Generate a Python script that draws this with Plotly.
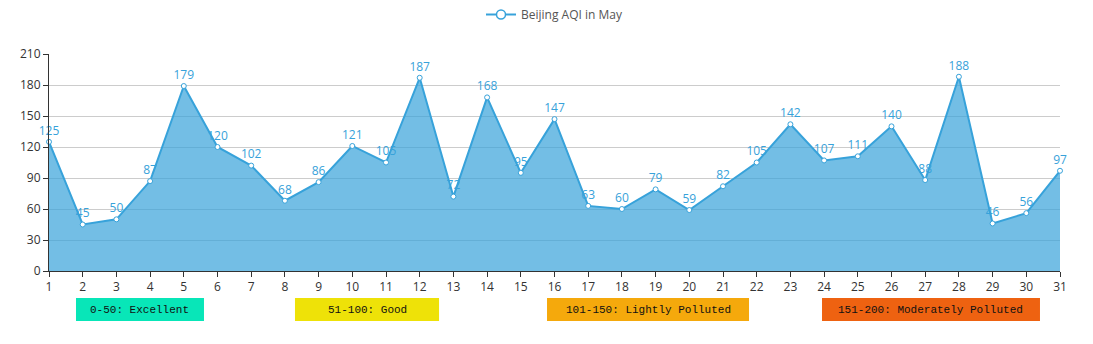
import plotly.graph_objects as go

days = [str(d) for d in range(1, 32)]
aqi = [125, 45, 50, 87, 179, 120, 102, 68, 86, 121, 105, 187, 72, 168, 95,
       147, 63, 60, 79, 59, 82, 105, 142, 107, 111, 140, 88, 188, 46, 56, 97]
y_ticks = [0, 30, 60, 90, 120, 150, 180, 210]

band_labels = ["0-50: Excellent", "51-100: Good", "101-150: Lightly Polluted",
               "151-200: Moderately Polluted"]
band_colors = ["#08e6b8", "#eee208", "#f5a90c", "#ee6211"]
# horizontal extent of each band box (paper coords)
band_x = [(0.0267, 0.1533), (0.2433, 0.3858), (0.4926, 0.6924), (0.7646, 0.9802)]

LINE = "#37a2da"
W, H = 1093, 344
L, R, T, B = 49, 33, 54, 73

fig = go.Figure()
fig.add_trace(go.Scatter(
    x=days, y=aqi, name="Beijing AQI in May", showlegend=False,
    mode="lines+markers+text",
    line=dict(color=LINE, width=2),
    marker=dict(symbol="circle", size=5, color="white",
                line=dict(color=LINE, width=1)),
    fill="tozeroy", fillcolor="rgba(55,162,218,0.7)",
    text=[str(v) for v in aqi], textposition="top center",
    textfont=dict(color=LINE, size=12, family="Open Sans"),
    cliponaxis=False,
))
# legend entry: line with open circle
fig.add_trace(go.Scatter(
    x=[None], y=[None], name="Beijing AQI in May", mode="lines+markers",
    line=dict(color=LINE, width=2),
    marker=dict(symbol="circle", size=9, color="white",
                line=dict(color=LINE, width=1.5)),
))

ph = H - T - B
for (x0, x1), col, lab in zip(band_x, band_colors, band_labels):
    fig.add_shape(type="rect", xref="paper", yref="paper",
                  x0=x0, x1=x1, y0=-(321 - T) / ph + 1, y1=-(298 - T) / ph + 1,
                  fillcolor=col, line=dict(width=0), layer="above")
    fig.add_annotation(xref="paper", yref="paper", x=(x0 + x1) / 2,
                       y=1 - (309.5 - T) / ph, text=lab, showarrow=False,
                       font=dict(family="Liberation Mono", size=11, color="#111"),
                       xanchor="center", yanchor="middle")

fig.update_layout(
    width=W, height=H,
    margin=dict(l=L, r=R, t=T, b=B),
    plot_bgcolor="white", paper_bgcolor="white",
    font=dict(family="Open Sans", color="#333", size=12),
    showlegend=True,
    legend=dict(orientation="h", x=0.5, xanchor="center", y=1.0, yanchor="top",
                yref="container", font=dict(size=12, color="#555"),
                bgcolor="rgba(0,0,0,0)", itemwidth=30),
    xaxis=dict(
        type="category", range=[0, 30], showgrid=False,
        showline=True, linecolor="#333", linewidth=1,
        ticks="outside", ticklen=5, tickcolor="#333",
        tickfont=dict(size=12, color="#333"),
    ),
    yaxis=dict(
        range=[0, 210], tickvals=y_ticks, showgrid=True, gridcolor="#ccc",
        showline=True, linecolor="#333", linewidth=1,
        ticks="outside", ticklen=5, tickcolor="#333",
        zeroline=False, tickfont=dict(size=12, color="#333"),
    ),
)

fig.write_html("out.html")
